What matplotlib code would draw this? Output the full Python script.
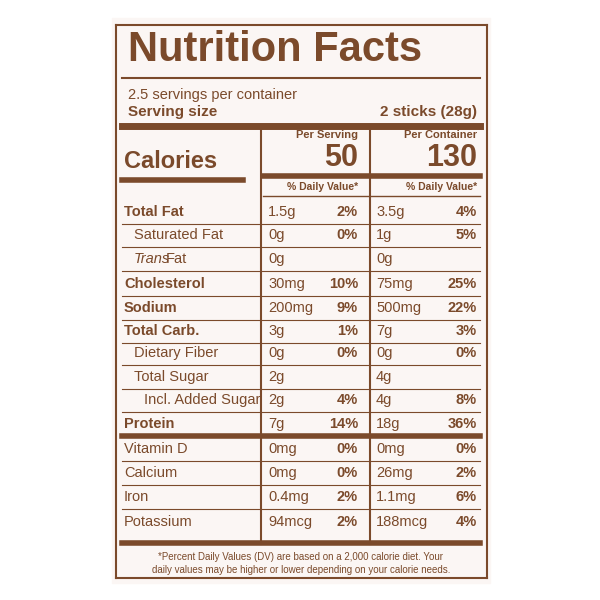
import matplotlib.pyplot as plt

plt.rcParams['font.family'] = 'Liberation Sans'

brown = '#7b4a2b'

nutrients = ['Total Fat', 'Saturated Fat', 'Trans Fat', 'Cholesterol', 'Sodium', 'Total Carb.',
             'Dietary Fiber', 'Total Sugar', 'Incl. Added Sugar', 'Protein',
             'Vitamin D', 'Calcium', 'Iron', 'Potassium']
bold = [True, False, False, True, True, True, False, False, False, True, False, False, False, False]
indent = [0, 1, 1, 0, 0, 0, 1, 1, 2, 0, 0, 0, 0, 0]
serv_amt = ['1.5g', '0g', '0g', '30mg', '200mg', '3g', '0g', '2g', '2g', '7g', '0mg', '0mg', '0.4mg', '94mcg']
serv_pct = ['2%', '0%', '', '10%', '9%', '1%', '0%', '', '4%', '14%', '0%', '0%', '2%', '2%']
cont_amt = ['3.5g', '1g', '0g', '75mg', '500mg', '7g', '0g', '4g', '4g', '18g', '0mg', '26mg', '1.1mg', '188mcg']
cont_pct = ['4%', '5%', '', '25%', '22%', '3%', '0%', '', '8%', '36%', '0%', '2%', '6%', '4%']
row_y = [212, 235, 259, 284, 308, 331, 353, 377, 400, 424, 449, 473, 497, 522]

fig = plt.figure(figsize=(6, 6), dpi=100)
ax = fig.add_axes([0, 0, 1, 1])
ax.set_xlim(0, 600)
ax.set_ylim(600, 0)
ax.axis('off')

# panel background and border
ax.add_patch(plt.Rectangle((112, 18), 378, 565, color='#fbf6f4', zorder=0))
ax.plot([116, 116], [25, 578], color=brown, lw=1.5)
ax.plot([487, 487], [25, 578], color=brown, lw=1.5)
ax.plot([116, 487], [25, 25], color=brown, lw=1.5)
ax.plot([116, 487], [578, 578], color=brown, lw=1.5)

ax.text(128, 50, 'Nutrition Facts', color=brown, fontsize=30, fontweight='bold', va='center')
ax.plot([122, 480], [78, 78], color=brown, lw=1.5)
ax.text(128, 95, '2.5 servings per container', color=brown, fontsize=10.5, va='center')
ax.text(128, 112, 'Serving size', color=brown, fontsize=11, fontweight='bold', va='center')
ax.text(477, 112, '2 sticks (28g)', color=brown, fontsize=11, fontweight='bold', va='center', ha='right')
ax.plot([122, 480], [126, 126], color=brown, lw=5)

# column separators
ax.plot([261, 261], [128, 544], color=brown, lw=1.5)
ax.plot([370, 370], [128, 544], color=brown, lw=1.5)

ax.text(358, 135, 'Per Serving', color=brown, fontsize=8, fontweight='bold', va='center', ha='right')
ax.text(477, 135, 'Per Container', color=brown, fontsize=8, fontweight='bold', va='center', ha='right')
ax.text(358, 158, '50', color=brown, fontsize=22, fontweight='bold', va='center', ha='right')
ax.text(477, 158, '130', color=brown, fontsize=22, fontweight='bold', va='center', ha='right')
ax.text(124, 161, 'Calories', color=brown, fontsize=17, fontweight='bold', va='center')
ax.plot([122, 243], [180, 180], color=brown, lw=4)
ax.plot([263, 368], [176, 176], color=brown, lw=4)
ax.plot([372, 480], [176, 176], color=brown, lw=4)
ax.text(358, 187, '% Daily Value*', color=brown, fontsize=7.5, fontweight='bold', va='center', ha='right')
ax.text(477, 187, '% Daily Value*', color=brown, fontsize=7.5, fontweight='bold', va='center', ha='right')
ax.plot([263, 480], [196, 196], color=brown, lw=1)

for i, name in enumerate(nutrients):
    y = row_y[i]
    x = 124 + indent[i] * 10
    if name == 'Trans Fat':
        ax.text(x, y, 'Trans', color=brown, fontsize=10.5, va='center', style='italic')
        ax.text(x + 32, y, 'Fat', color=brown, fontsize=10.5, va='center')
    else:
        ax.text(x, y, name, color=brown, fontsize=10.5, va='center',
                fontweight='bold' if bold[i] else 'normal')
    ax.text(268, y, serv_amt[i], color=brown, fontsize=10.5, va='center')
    ax.text(358, y, serv_pct[i], color=brown, fontsize=10.5, va='center', ha='right', fontweight='bold')
    ax.text(376, y, cont_amt[i], color=brown, fontsize=10.5, va='center')
    ax.text(477, y, cont_pct[i], color=brown, fontsize=10.5, va='center', ha='right', fontweight='bold')
    if name == 'Protein':
        ax.plot([122, 480], [y + 12, y + 12], color=brown, lw=4)
    elif i < len(nutrients) - 1:
        ax.plot([122, 480], [y + 12, y + 12], color=brown, lw=0.8)

ax.plot([122, 480], [543, 543], color=brown, lw=4)
ax.text(301, 557, '*Percent Daily Values (DV) are based on a 2,000 calorie diet. Your',
        color=brown, fontsize=7, va='center', ha='center')
ax.text(301, 570, 'daily values may be higher or lower depending on your calorie needs.',
        color=brown, fontsize=7, va='center', ha='center')

fig.savefig('out.png', dpi=100)
